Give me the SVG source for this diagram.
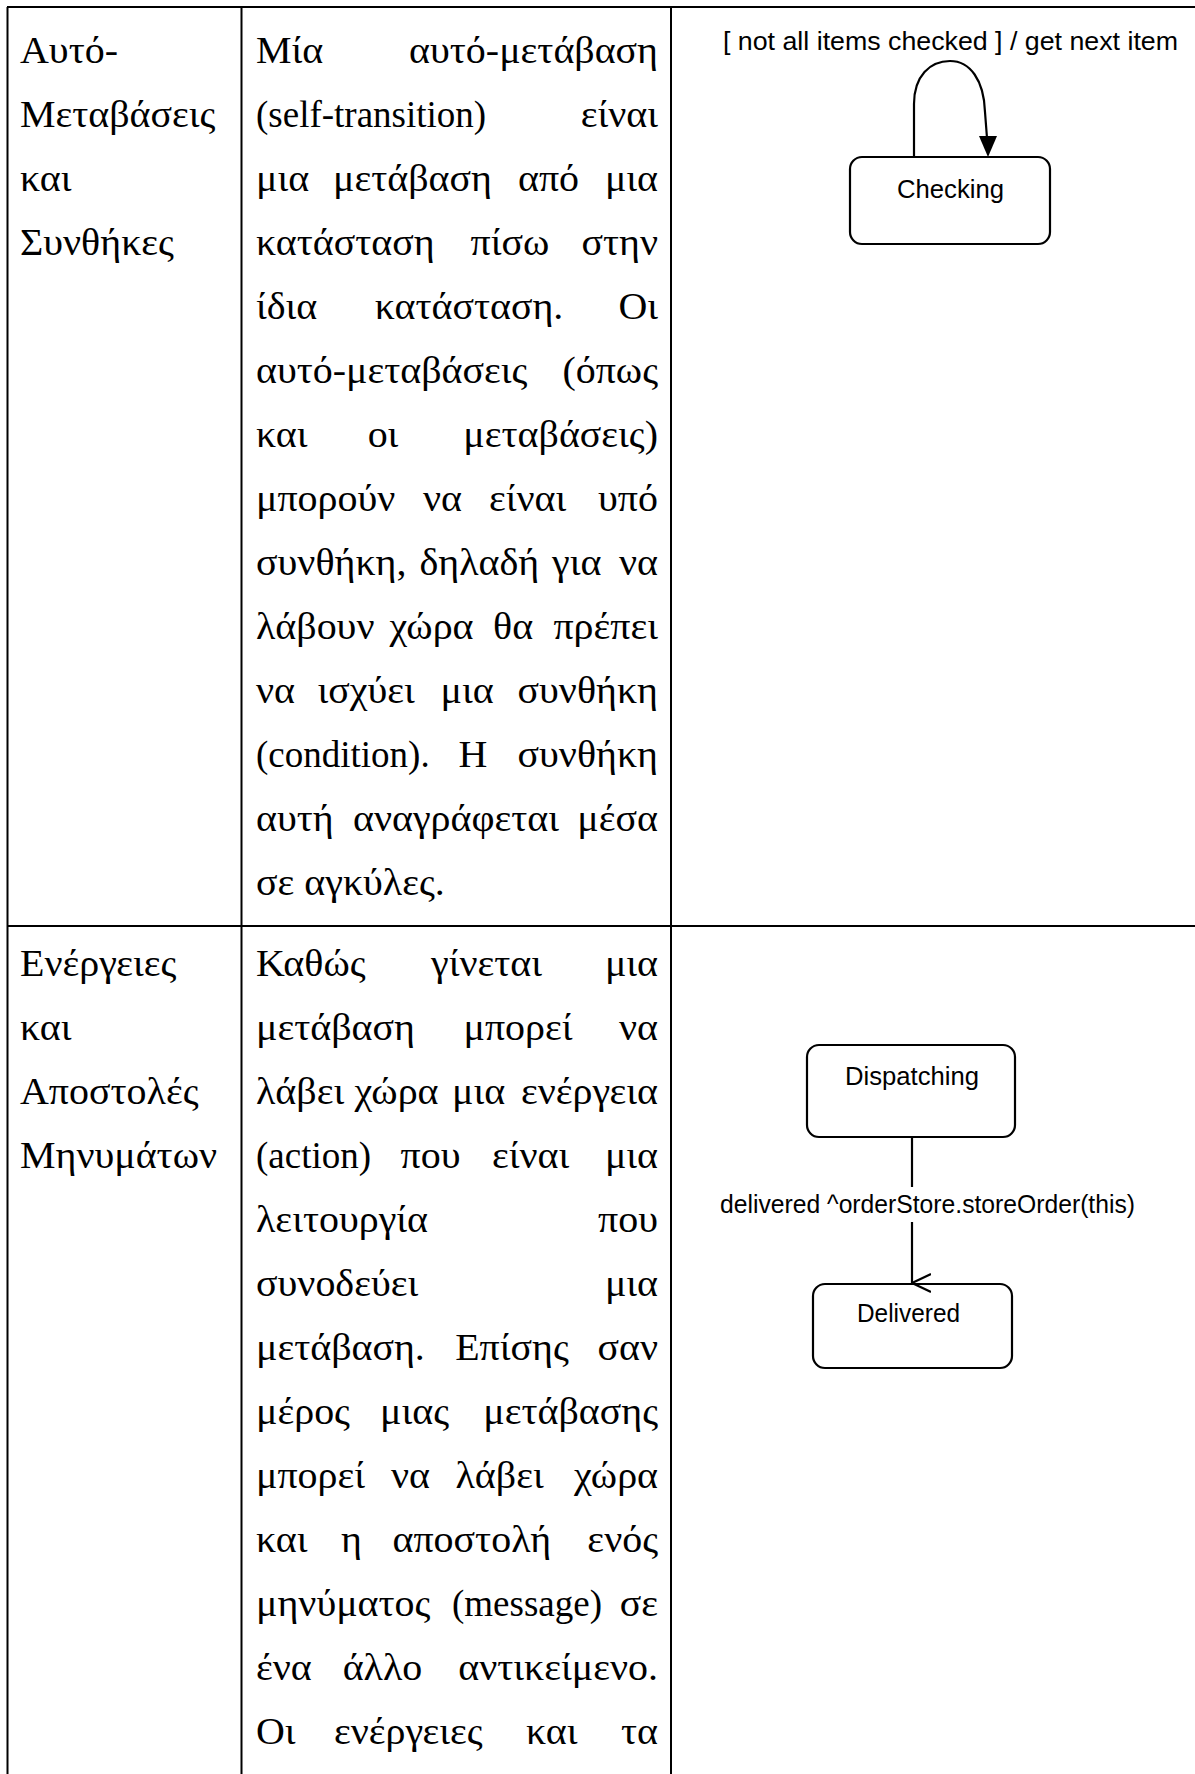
<svg xmlns="http://www.w3.org/2000/svg" width="1195" height="1774" viewBox="0 0 1195 1774">
  <style>
    .grid { stroke: #000; stroke-width: 2; fill: none; }
    .t text { font-family: "Liberation Serif", "Times New Roman", serif; font-size: 37px; fill: #000; }
    .e { text-anchor: end; }
    .m { text-anchor: middle; }
    .u { font-family: "Liberation Sans", Arial, sans-serif; font-size: 26px; fill: #000; }
    .state { fill: #fff; stroke: #000; stroke-width: 2.2; }
    .wire { fill: none; stroke: #000; stroke-width: 2.2; }
  </style>
  <defs>
    <marker id="open-v" viewBox="0 0 20 20" refX="10" refY="19" markerWidth="20" markerHeight="20" markerUnits="userSpaceOnUse" orient="auto-start-reverse">
      <path d="M1,0 L10,19 L19,0" fill="none" stroke="#000" stroke-width="2.2"/>
    </marker>
  </defs>
  <rect width="1195" height="1774" fill="#fff"/>

  <!-- table rules -->
  <g id="table" class="grid">
    <line x1="7" y1="7" x2="1195" y2="7"/>
    <line x1="7" y1="926" x2="1195" y2="926"/>
    <line x1="7.5" y1="7" x2="7.5" y2="1774"/>
    <line x1="241.5" y1="7" x2="241.5" y2="1774"/>
    <line x1="671" y1="7" x2="671" y2="1774"/>
  </g>

  <!-- Greek words use a slightly wider set (matrix 1.08 horizontal) -->

  <!-- row 1, term -->
  <g id="term-self-transitions" class="t">
    <text transform="matrix(1.08 0 0 1 20 63)">Αυτό-</text>
    <text transform="matrix(1.08 0 0 1 20 127)">Μεταβάσεις</text>
    <text transform="matrix(1.08 0 0 1 20 191)">και</text>
    <text transform="matrix(1.08 0 0 1 20 255)">Συνθήκες</text>
  </g>

  <!-- row 1, description (justified) -->
  <g id="desc-self-transitions" class="t">
    <text transform="matrix(1.08 0 0 1 256 63)">Μία</text>
    <text class="e" transform="matrix(1.08 0 0 1 658 63)">αυτό-μετάβαση</text>

    <text x="256" y="127">(self-transition)</text>
    <text class="e" transform="matrix(1.08 0 0 1 658 127)">είναι</text>

    <text transform="matrix(1.08 0 0 1 256 191)">μια</text>
    <text transform="matrix(1.08 0 0 1 333 191)">μετάβαση</text>
    <text transform="matrix(1.08 0 0 1 518 191)">από</text>
    <text class="e" transform="matrix(1.08 0 0 1 658 191)">μια</text>

    <text transform="matrix(1.08 0 0 1 256 255)">κατάσταση</text>
    <text class="m" transform="matrix(1.08 0 0 1 510 255)">πίσω</text>
    <text class="e" transform="matrix(1.08 0 0 1 658 255)">στην</text>

    <text transform="matrix(1.08 0 0 1 256 319)">ίδια</text>
    <text class="m" transform="matrix(1.08 0 0 1 469 319)">κατάσταση.</text>
    <text class="e" transform="matrix(1.08 0 0 1 658 319)">Οι</text>

    <text transform="matrix(1.08 0 0 1 256 383)">αυτό-μεταβάσεις</text>
    <text class="e" transform="matrix(1.08 0 0 1 658 383)">(όπως</text>

    <text transform="matrix(1.08 0 0 1 256 447)">και</text>
    <text class="m" transform="matrix(1.08 0 0 1 383 447)">οι</text>
    <text class="e" transform="matrix(1.08 0 0 1 658 447)">μεταβάσεις)</text>

    <text transform="matrix(1.08 0 0 1 256 511)">μπορούν</text>
    <text transform="matrix(1.08 0 0 1 423 511)">να</text>
    <text transform="matrix(1.08 0 0 1 489 511)">είναι</text>
    <text class="e" transform="matrix(1.08 0 0 1 658 511)">υπό</text>

    <text transform="matrix(1.08 0 0 1 256 575)">συνθήκη,</text>
    <text transform="matrix(1.08 0 0 1 419.5 575)">δηλαδή</text>
    <text transform="matrix(1.08 0 0 1 552 575)">για</text>
    <text class="e" transform="matrix(1.08 0 0 1 658 575)">να</text>

    <text transform="matrix(1.08 0 0 1 256 639)">λάβουν</text>
    <text transform="matrix(1.08 0 0 1 389.5 639)">χώρα</text>
    <text transform="matrix(1.08 0 0 1 493 639)">θα</text>
    <text class="e" transform="matrix(1.08 0 0 1 658 639)">πρέπει</text>

    <text transform="matrix(1.08 0 0 1 256 703)">να</text>
    <text transform="matrix(1.08 0 0 1 317.5 703)">ισχύει</text>
    <text transform="matrix(1.08 0 0 1 440.5 703)">μια</text>
    <text class="e" transform="matrix(1.08 0 0 1 658 703)">συνθήκη</text>

    <text x="256" y="767">(condition).</text>
    <text class="m" transform="matrix(1.08 0 0 1 473 767)">Η</text>
    <text class="e" transform="matrix(1.08 0 0 1 658 767)">συνθήκη</text>

    <text transform="matrix(1.08 0 0 1 256 831)">αυτή</text>
    <text class="m" transform="matrix(1.08 0 0 1 456 831)">αναγράφεται</text>
    <text class="e" transform="matrix(1.08 0 0 1 658 831)">μέσα</text>

    <text transform="matrix(1.08 0 0 1 256 895)">σε αγκύλες.</text>
  </g>

  <!-- row 2, term -->
  <g id="term-actions" class="t">
    <text transform="matrix(1.08 0 0 1 20 976)">Ενέργειες</text>
    <text transform="matrix(1.08 0 0 1 20 1040)">και</text>
    <text transform="matrix(1.08 0 0 1 20 1104)">Αποστολές</text>
    <text transform="matrix(1.08 0 0 1 20 1168)">Μηνυμάτων</text>
  </g>

  <!-- row 2, description (justified) -->
  <g id="desc-actions" class="t">
    <text transform="matrix(1.08 0 0 1 256 976)">Καθώς</text>
    <text class="m" transform="matrix(1.08 0 0 1 486.5 976)">γίνεται</text>
    <text class="e" transform="matrix(1.08 0 0 1 658 976)">μια</text>

    <text transform="matrix(1.08 0 0 1 256 1040)">μετάβαση</text>
    <text class="m" transform="matrix(1.08 0 0 1 518 1040)">μπορεί</text>
    <text class="e" transform="matrix(1.08 0 0 1 658 1040)">να</text>

    <text transform="matrix(1.08 0 0 1 256 1104)">λάβει</text>
    <text transform="matrix(1.08 0 0 1 354.5 1104)">χώρα</text>
    <text transform="matrix(1.08 0 0 1 452 1104)">μια</text>
    <text class="e" transform="matrix(1.08 0 0 1 658 1104)">ενέργεια</text>

    <text x="256" y="1168">(action)</text>
    <text transform="matrix(1.08 0 0 1 400.5 1168)">που</text>
    <text transform="matrix(1.08 0 0 1 492 1168)">είναι</text>
    <text class="e" transform="matrix(1.08 0 0 1 658 1168)">μια</text>

    <text transform="matrix(1.08 0 0 1 256 1232)">λειτουργία</text>
    <text class="e" transform="matrix(1.08 0 0 1 658 1232)">που</text>

    <text transform="matrix(1.08 0 0 1 256 1296)">συνοδεύει</text>
    <text class="e" transform="matrix(1.08 0 0 1 658 1296)">μια</text>

    <text transform="matrix(1.08 0 0 1 256 1360)">μετάβαση.</text>
    <text class="m" transform="matrix(1.08 0 0 1 512 1360)">Επίσης</text>
    <text class="e" transform="matrix(1.08 0 0 1 658 1360)">σαν</text>

    <text transform="matrix(1.08 0 0 1 256 1424)">μέρος</text>
    <text class="m" transform="matrix(1.08 0 0 1 414.5 1424)">μιας</text>
    <text class="e" transform="matrix(1.08 0 0 1 658 1424)">μετάβασης</text>

    <text transform="matrix(1.08 0 0 1 256 1488)">μπορεί</text>
    <text transform="matrix(1.08 0 0 1 391 1488)">να</text>
    <text transform="matrix(1.08 0 0 1 455.5 1488)">λάβει</text>
    <text class="e" transform="matrix(1.08 0 0 1 658 1488)">χώρα</text>

    <text transform="matrix(1.08 0 0 1 256 1552)">και</text>
    <text transform="matrix(1.08 0 0 1 341 1552)">η</text>
    <text transform="matrix(1.08 0 0 1 392.5 1552)">αποστολή</text>
    <text class="e" transform="matrix(1.08 0 0 1 658 1552)">ενός</text>

    <text transform="matrix(1.08 0 0 1 256 1616)">μηνύματος</text>
    <text class="m" x="527" y="1616">(message)</text>
    <text class="e" transform="matrix(1.08 0 0 1 658 1616)">σε</text>

    <text transform="matrix(1.08 0 0 1 256 1680)">ένα</text>
    <text class="m" transform="matrix(1.08 0 0 1 382.5 1680)">άλλο</text>
    <text class="e" transform="matrix(1.08 0 0 1 658 1680)">αντικείμενο.</text>

    <text transform="matrix(1.08 0 0 1 256 1744)">Οι</text>
    <text transform="matrix(1.08 0 0 1 334 1744)">ενέργειες</text>
    <text transform="matrix(1.08 0 0 1 526 1744)">και</text>
    <text class="e" transform="matrix(1.08 0 0 1 658 1744)">τα</text>
  </g>

  <!-- state machine examples -->
  <g id="state-checking">
    <rect class="state" x="850" y="157" width="200" height="87" rx="12"/>
    <text class="u" x="897" y="198" textLength="107" lengthAdjust="spacingAndGlyphs">Checking</text>
  </g>
  <g id="state-dispatching">
    <rect class="state" x="807" y="1045" width="208" height="92" rx="12"/>
    <text class="u" x="845" y="1085" textLength="134" lengthAdjust="spacingAndGlyphs">Dispatching</text>
  </g>
  <g id="state-delivered">
    <rect class="state" x="813" y="1284" width="199" height="84" rx="12"/>
    <text class="u" x="857" y="1322" textLength="103" lengthAdjust="spacingAndGlyphs">Delivered</text>
  </g>

  <g id="connectors">
    <!-- self-transition on Checking -->
    <path class="wire" d="M914,157 L914,104 C914,76 930,61 950,61 C970,61 984,80 985,112 L987,138"/>
    <polygon points="979,136 997,136 988,157" fill="#000"/>
    <text class="u" x="723" y="50" textLength="455" lengthAdjust="spacingAndGlyphs">[ not all items checked ] / get next item</text>

    <!-- Dispatching to Delivered -->
    <line class="wire" x1="912" y1="1137" x2="912" y2="1187"/>
    <line class="wire" x1="912" y1="1222" x2="912" y2="1283" marker-end="url(#open-v)"/>
    <text class="u" x="720" y="1213" textLength="415" lengthAdjust="spacingAndGlyphs">delivered ^orderStore.storeOrder(this)</text>
  </g>
</svg>
